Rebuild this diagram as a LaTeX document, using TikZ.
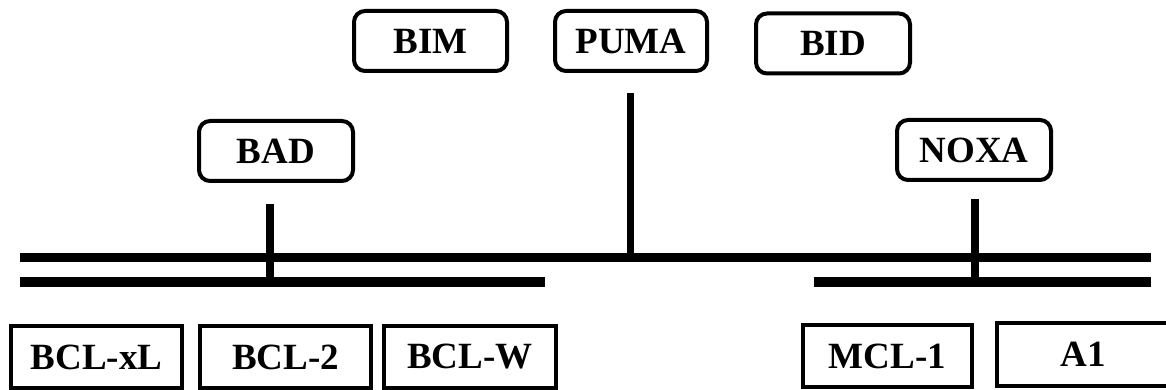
\documentclass[tikz,border=0pt]{standalone}
\usepackage{fontspec}
\setmainfont{Liberation Serif}
\begin{document}
\begin{tikzpicture}[x=1pt,y=-1pt,
  lbl/.style={font=\fontsize{37}{40}\selectfont\bfseries, inner sep=0pt, text=black},
  rbox/.style={lbl, draw=black, line width=4pt, rounded corners=11pt, minimum width=154pt, minimum height=60pt},
  sbox/.style={lbl, draw=black, line width=4pt, minimum height=62pt},
  bar/.style={line width=9.5pt, line cap=butt},
  stem/.style={line width=7.5pt, line cap=butt}]
\useasboundingbox (0,0) rectangle (1166,390);
\clip (0,0) rectangle (1166,390);
% top rounded boxes
\node[rbox, minimum width=153pt] (bim) at (430.5,41) {BIM};
\node[rbox, minimum width=152pt] (puma) at (631,41) {PUMA};
\node[rbox] (bid) at (833,43.5) {BID};
\node[rbox] (bad) at (276,151) {BAD};
\node[rbox] (noxa) at (974,150) {NOXA};
% bottom square boxes
\node[sbox, minimum width=171pt] (bclxl) at (96.5,357) {BCL-xL};
\node[sbox, minimum width=171pt] (bcl2) at (285.5,357) {BCL-2};
\node[sbox, minimum width=172pt] (bclw) at (470,357) {BCL-W};
\node[sbox, minimum width=169pt] (mcl1) at (887.5,356) {MCL-1};
\node[sbox, minimum width=172pt, minimum height=63pt] (a1) at (1083,354.5) {A1};
% bars
\coordinate (tl) at (20,257.5);
\coordinate (tr) at (1151,257.5);
\coordinate (ll) at (20,282);
\coordinate (lr) at (545,282);
\coordinate (rl) at (814,282);
\coordinate (rr) at (1151,282);
\draw[bar] (tl) -- (tr);
\draw[bar] (ll) -- (lr);
\draw[bar] (rl) -- (rr);
% stems
\coordinate (pumatop) at (630.5,93);
\coordinate (pumabot) at (630.5,257.5);
\coordinate (badtop) at (270,204);
\coordinate (badbot) at (270,282);
\coordinate (noxatop) at (975,199);
\coordinate (noxabot) at (975,282);
\draw[stem] (pumatop) -- (pumabot);
\draw[stem] (badtop) -- (badbot);
\draw[stem] (noxatop) -- (noxabot);
\end{tikzpicture}
\end{document}
